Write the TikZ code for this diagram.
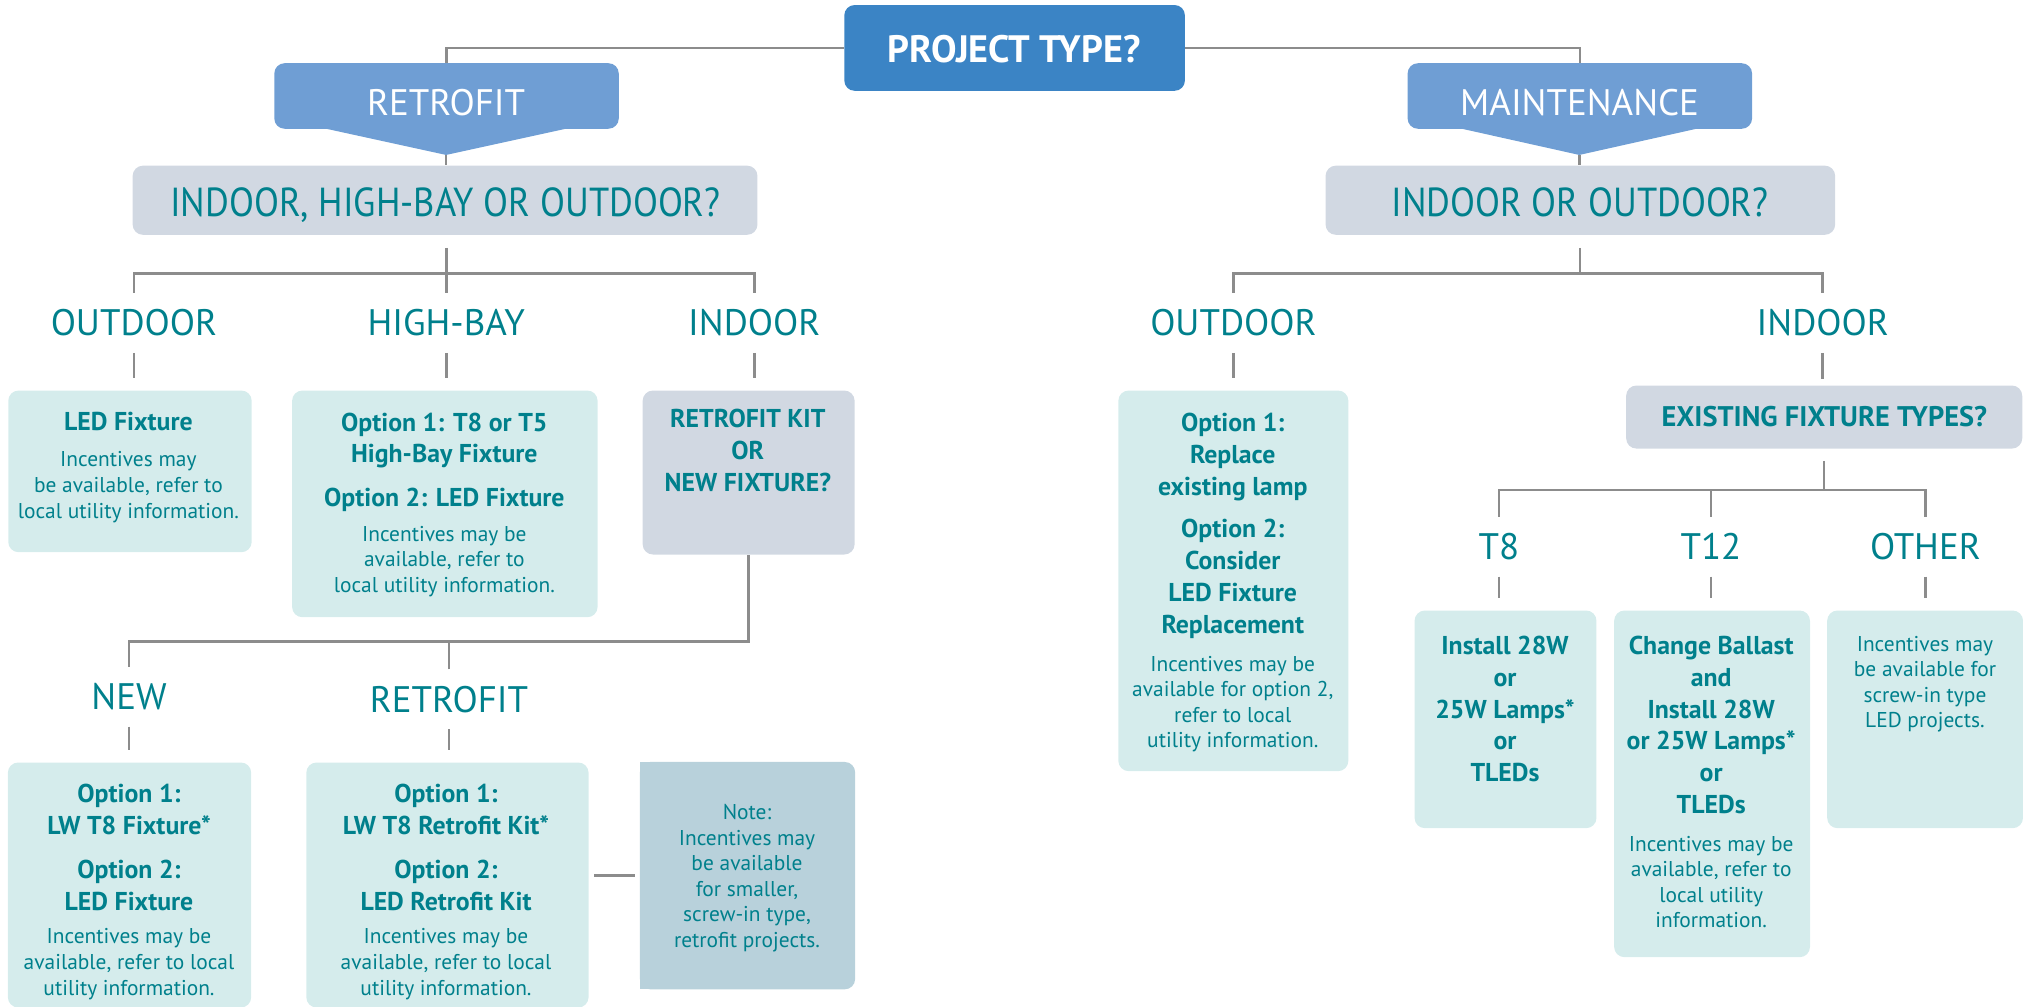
\documentclass[tikz,border=0pt]{standalone}
\usepackage{fontspec}
\setmainfont{PT Sans}
\usetikzlibrary{calc}
\definecolor{projblue}{RGB}{59,132,197}
\definecolor{catblue}{RGB}{111,158,212}
\definecolor{qgrey}{RGB}{209,216,226}
\definecolor{lteal}{RGB}{213,236,236}
\definecolor{notebg}{RGB}{184,209,219}
\definecolor{tealtx}{RGB}{0,128,140}
\definecolor{connc}{RGB}{140,140,140}
\newcommand\fBig{\fontsize{14.3}{17}\selectfont}
\newcommand\fQ{\addfontfeature{FakeStretch=0.9}\fontsize{15.7}{18}\selectfont}
\newcommand\fProj{\bfseries\fontsize{14.8}{17}\selectfont}
\newcommand\fBold{\bfseries\fontsize{10}{12.3}\selectfont}
\newcommand\fBoldB{\bfseries\fontsize{10}{12.5}\selectfont}
\newcommand\fEx{\bfseries\fontsize{11}{13}\selectfont}
\newcommand\fSmall{\fontsize{8.3}{9.9}\selectfont}
\tikzset{
  conn/.style={draw=connc, line width=1pt},
  stub/.style={conn, shorten >=4.5pt},
  box/.style={rounded corners=4pt, inner sep=0pt, anchor=north west},
  lab/.style={text=tealtx, font=\fBig, inner xsep=0pt, inner ysep=6.4pt, text height=10pt, text depth=0pt},
  bt/.style={anchor=north, align=center, inner sep=0pt, text=tealtx, font=\fBold},
  st/.style={anchor=north, align=center, inner sep=0pt, text=tealtx, font=\fSmall},
}
\begin{document}
\begin{tikzpicture}[x=0.5pt,y=-0.5pt]
\useasboundingbox (0,0) rectangle (1568,780.5);

% ---------- top ----------
\node[box, fill=projblue, minimum width=132pt, minimum height=33.25pt] (proj) at (654,3.5) {};
\node[text=white, font=\fProj, inner sep=0pt, text height=10.36pt, text depth=0pt] (projt) at (786,38.2) {PROJECT TYPE?};

\node[box, fill=catblue, minimum width=133.5pt, minimum height=25.4pt] (retro) at (212.2,48.6) {};
\coordinate (rtip) at (345.75,120.1);
\fill[catblue] (244.6,98) -- (446.8,98) -- (rtip) -- cycle;
\node[text=white, font=\fBig, inner sep=0pt, text height=10pt, text depth=0pt] (retrot) at (345.75,79.8) {RETROFIT};

\node[box, fill=catblue, minimum width=133.5pt, minimum height=25.4pt] (maint) at (1090.6,48.6) {};
\coordinate (mtip) at (1224.1,120.1);
\fill[catblue] (1125,98) -- (1323,98) -- (mtip) -- cycle;
\node[text=white, font=\fBig, inner sep=0pt, text height=10pt, text depth=0pt] (maintt) at (1224.3,79.8) {MAINTENANCE};

\node[box, fill=qgrey, minimum width=242.15pt, minimum height=26.8pt] (q1) at (102.4,128) {};
\node[text=tealtx, font=\fQ, inner sep=0pt, text height=11pt, text depth=0pt] (q1t) at (345.2,157) {INDOOR, HIGH-BAY OR OUTDOOR?};
\node[box, fill=qgrey, minimum width=197.5pt, minimum height=26.8pt] (q2) at (1027,128) {};
\node[text=tealtx, font=\fQ, inner sep=0pt, text height=11pt, text depth=0pt] (q2t) at (1224.7,157) {INDOOR OR OUTDOOR?};

\draw[conn] (proj.west) -| (retro.north);
\draw[conn] (proj.east) -| (maint.north);
\draw[conn] (rtip) -- (rtip |- q1.north);
\draw[conn] (mtip) -- (mtip |- q2.north);

% ---------- left branch ----------
\coordinate (jA) at (345.9,211.8);
\node[lab] (lOutL) at (103.8,250.3) {OUTDOOR};
\node[lab] (lHB) at (345.9,250.3) {HIGH-BAY};
\node[lab] (lInL) at (584.6,250.3) {INDOOR};
\draw[conn] ($(jA |- q1.south)+(0,9.7)$) -- (jA);
\draw[conn] (lOutL.north) |- (jA) -| (lInL.north);
\draw[conn] (jA) -- (lHB.north);

\node[box, fill=lteal, minimum width=94.35pt, minimum height=62.65pt] (bLED) at (6,302.3) {};
\node[box, fill=lteal, minimum width=118.4pt, minimum height=87.85pt] (bHB) at (226,302.3) {};
\node[box, fill=qgrey, minimum width=82.15pt, minimum height=63.55pt] (bRK) at (497.7,302.3) {};
\draw[stub] (lOutL.south) -- (lOutL.south |- bLED.north);
\draw[stub] (lHB.south) -- (lHB.south |- bHB.north);
\draw[stub] (lInL.south) -- (lInL.south |- bRK.north);

\node[bt] (tLED1) at (99.5,318.9) {LED Fixture};
\node[st] (tLED2) at (99.5,349.8) {Incentives may\\be available, refer to\\local utility information.};
\node[bt] (tHB1) at (344.4,319.5) {Option 1: T8 or T5\\High-Bay Fixture};
\node[bt] (tHB2) at (344.4,378.2) {Option 2: LED Fixture};
\node[st] (tHB3) at (344.4,407.4) {Incentives may be\\available, refer to\\local utility information.};
\node[bt, font=\fBoldB] (tRK) at (579.6,316.3) {RETROFIT KIT\\OR\\NEW FIXTURE?};

\coordinate (jC) at (580,497);
\node[lab] (lNew) at (100,540) {NEW};
\node[lab] (lRF) at (348,542) {RETROFIT};
\draw[conn] (bRK.south) -- (bRK.south |- jC) -| (lNew.north);
\draw[conn] (lRF.north) -- (lRF.north |- jC);

\node[box, fill=lteal, minimum width=94.3pt, minimum height=94.95pt] (bNew) at (5.7,590.6) {};
\node[box, fill=lteal, minimum width=109.4pt, minimum height=94.95pt] (bRF) at (237,590.6) {};
\node[box, minimum width=83pt, minimum height=87.7pt] (note) at (496,590.6) {};
\fill[notebg, rounded corners=4pt] (note.north west) rectangle (note.south east);
\fill[notebg] (note.north west) rectangle (note.south);
\draw[stub] (lNew.south) -- (lNew.south |- bNew.north);
\draw[stub] (lRF.south) -- (lRF.south |- bRF.north);
\draw[conn, shorten <=1.9pt, shorten >=1.9pt] (bRF.east |- note.west) -- (note.west);

\node[bt] (tNew1) at (100,607.6) {Option 1:\\LW T8 Fixture*};
\node[bt] (tNew2) at (100,666.5) {Option 2:\\LED Fixture};
\node[st] (tNew3) at (100,719.5) {Incentives may be\\available, refer to local\\utility information.};
\node[bt] (tRF1) at (345.7,607.6) {Option 1:\\LW T8 Retrofit Kit*};
\node[bt] (tRF2) at (345.7,666.5) {Option 2:\\LED Retrofit Kit};
\node[st] (tRF3) at (345.7,719.5) {Incentives may be\\available, refer to local\\utility information.};
\node[st] (tNote) at (579,623.1) {Note:\\Incentives may\\be available\\for smaller,\\screw-in type,\\retrofit projects.};

% ---------- right branch ----------
\coordinate (jB) at (1224.5,211.8);
\node[lab] (lOutR) at (956,250.3) {OUTDOOR};
\node[lab] (lInR) at (1412.8,250.3) {INDOOR};
\draw[conn] ($(jB |- q2.south)+(0,9.7)$) -- (jB);
\draw[conn] (lOutR.north) |- (jB) -| (lInR.north);

\node[box, fill=lteal, minimum width=89.15pt, minimum height=147.5pt] (bMO) at (866.4,302.3) {};
\node[box, fill=qgrey, minimum width=153.5pt, minimum height=24.45pt] (bEX) at (1260,298.4) {};
\draw[stub] (lOutR.south) -- (lOutR.south |- bMO.north);
\draw[conn, shorten >=2.3pt] (lInR.south) -- (lInR.south |- bEX.north);

\node[bt] (tMO1) at (955.5,320) {Option 1:\\Replace\\existing lamp};
\node[bt] (tMO2) at (955.5,402.2) {Option 2:\\Consider\\LED Fixture\\Replacement};
\node[st] (tMO3) at (955.5,508.1) {Incentives may be\\available for option 2,\\refer to local\\utility information.};
\node[text=tealtx, font=\fEx, inner sep=0pt, text height=7.7pt, text depth=0pt] (tEX) at (1414,323) {EXISTING FIXTURE TYPES?};

\coordinate (jD) at (1413.7,379.8);
\node[lab] (lT8) at (1161.8,423.7) {T8};
\node[lab] (lT12) at (1326.1,423.7) {T12};
\node[lab] (lOT) at (1492.4,423.7) {OTHER};
\draw[conn] ($(jD |- bEX.south)+(0,9.2)$) -- (jD);
\draw[conn] (lT8.north) |- (jD) -| (lOT.north);
\draw[conn] (lT12.north) -- (lT12.north |- jD);

\node[box, fill=lteal, minimum width=70.5pt, minimum height=84.35pt] (bT8) at (1096,472.8) {};
\node[box, fill=lteal, minimum width=75.9pt, minimum height=134.35pt] (bT12) at (1250.7,472.8) {};
\node[box, fill=lteal, minimum width=75.9pt, minimum height=84.35pt] (bOT) at (1415.8,472.8) {};
\draw[stub] (lT8.south) -- (lT8.south |- bT8.north);
\draw[stub] (lT12.south) -- (lT12.south |- bT12.north);
\draw[stub] (lOT.south) -- (lOT.south |- bOT.north);

\node[bt] (tT8) at (1166.5,492.7) {Install 28W\\or\\25W Lamps*\\or\\TLEDs};
\node[bt] (tT12a) at (1326.3,492.7) {Change Ballast\\and\\Install 28W\\or 25W Lamps*\\or\\TLEDs};
\node[st] (tT12b) at (1326.3,647.6) {Incentives may be\\available, refer to\\local utility\\information.};
\node[st] (tOT) at (1492,492.6) {Incentives may\\be available for\\screw-in type\\LED projects.};
\end{tikzpicture}
\end{document}
